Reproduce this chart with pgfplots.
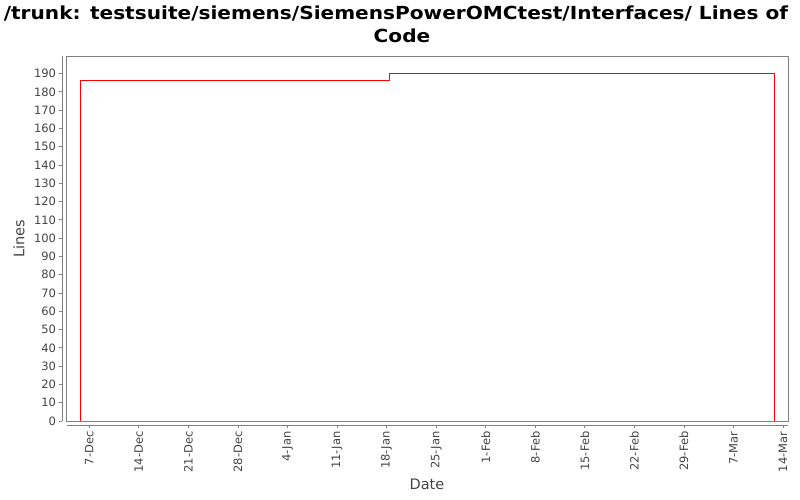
\documentclass[border=0pt]{standalone}
\usepackage{fontspec}
\setmainfont{DejaVu Sans}
\newfontfamily\titlefont[FakeStretch=1.117]{DejaVu Sans}
\usepackage{pgfplots}
\pgfplotsset{compat=1.18}
\definecolor{boxgray}{RGB}{128,128,128}
\definecolor{labelgray}{RGB}{68,68,68}
\definecolor{linered}{RGB}{255,0,0}
\begin{document}
\begin{tikzpicture}
\path[use as bounding box] (0,0) rectangle (800bp,500bp);
% title
\node[anchor=base, font=\titlefont\fontsize{18bp}{20bp}\selectfont\bfseries] at (396bp,480bp)
  {/trunk: testsuite/siemens/SiemensPowerOMCtest/Interfaces/ Lines of};
\node[anchor=base, font=\titlefont\fontsize{18bp}{20bp}\selectfont\bfseries] at (402bp,457.5bp) {Code};
\begin{axis}[
  at={(66.5bp,79bp)}, anchor=south west,
  scale only axis, width=721.5bp, height=365bp,
  xmin=-3.22, xmax=98.7, ymin=0, ymax=199.6,
  clip=false,
  axis line style={draw=boxgray, line width=0.8bp},
  xtick={0,7,...,98},
  xticklabels={7-Dec,14-Dec,21-Dec,28-Dec,4-Jan,11-Jan,18-Jan,25-Jan,1-Feb,8-Feb,15-Feb,22-Feb,29-Feb,7-Mar,14-Mar},
  ytick={0,10,...,190},
  xtick pos=bottom, ytick pos=left,
  tick align=outside, major tick length=3bp,
  xtick style={yshift=-4bp, draw=boxgray, line width=0.8bp},
  ytick style={xshift=-4bp, draw=boxgray, line width=0.8bp},
  xticklabel shift=4bp, yticklabel shift=4bp,
  ticklabel style={font=\fontsize{11.5bp}{13bp}\selectfont, text=labelgray},
  xticklabel style={rotate=90, anchor=east},
  /pgf/number format/assume math mode=true,
  xlabel={}, ylabel={},
]
\addplot[linered, line width=0.9bp] coordinates {
  (-1.27,0) (-1.27,186) (42.4,186) (42.4,190) (96.75,190) (96.75,0)
};
\draw[boxgray, line width=0.8bp] ([xshift=-4bp]rel axis cs:0,0) -- ([xshift=-4bp]rel axis cs:0,1);
\draw[boxgray, line width=0.8bp] ([yshift=-4bp]rel axis cs:0,0) -- ([yshift=-4bp]rel axis cs:1,0);
\end{axis}
\node[rotate=90, text=labelgray, font=\fontsize{14.5bp}{16bp}\selectfont] at (19bp,261.5bp) {Lines};
\node[text=labelgray, font=\fontsize{14.5bp}{16bp}\selectfont] at (427bp,15.5bp) {Date};
\end{tikzpicture}
\end{document}
